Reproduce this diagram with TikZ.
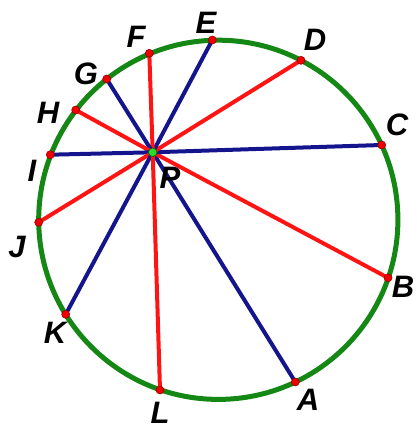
\documentclass[tikz,border=0pt]{standalone}
\usepackage{fontspec}
\setmainfont{Liberation Sans}
\definecolor{cgreen}{RGB}{20,135,20}
\definecolor{cblue}{RGB}{20,20,140}
\definecolor{cred}{RGB}{255,20,20}
\definecolor{cdot}{RGB}{240,0,0}
\definecolor{cpdot}{RGB}{40,220,40}
\tikzset{
  dotpt/.style={circle,fill=cdot,draw=red!60!black,line width=0.6pt,inner sep=0pt,minimum size=8pt},
  pdot/.style={circle,fill=cpdot,draw=green!40!black,line width=0.6pt,inner sep=0pt,minimum size=8.5pt},
  seg/.style={line width=4pt},
  bseg/.style={seg,draw=cblue},
  rseg/.style={seg,draw=cred},
  lab/.style={font=\fontsize{31}{31}\selectfont\bfseries\itshape,inner sep=0pt,text=black}
}
\begin{document}
\begin{tikzpicture}[x=1pt,y=-1pt]
\useasboundingbox (0,0) rectangle (416,430);
\coordinate (O) at (218.3,219.8);
\draw[cgreen,line width=5pt] (O) circle[radius=179.6];
\coordinate (Pc) at (152.7,152.3);
\coordinate (Ac) at (295.3,382);
\coordinate (Bc) at (388,277.8);
\coordinate (Cc) at (381.7,145);
\coordinate (Dc) at (301,60.3);
\coordinate (Ec) at (212.3,40);
\coordinate (Fc) at (149.3,53.3);
\coordinate (Gc) at (106.7,79);
\coordinate (Hc) at (75.7,110);
\coordinate (Ic) at (50.3,154.7);
\coordinate (Jc) at (38.7,222.3);
\coordinate (Kc) at (65.7,314.3);
\coordinate (Lc) at (160,390);
\draw[bseg] (Pc) -- (Ac);
\draw[rseg] (Pc) -- (Bc);
\draw[bseg] (Pc) -- (Cc);
\draw[rseg] (Pc) -- (Dc);
\draw[bseg] (Pc) -- (Ec);
\draw[rseg] (Pc) -- (Fc);
\draw[bseg] (Pc) -- (Gc);
\draw[rseg] (Pc) -- (Hc);
\draw[bseg] (Pc) -- (Ic);
\draw[rseg] (Pc) -- (Jc);
\draw[bseg] (Pc) -- (Kc);
\draw[rseg] (Pc) -- (Lc);
\foreach \n in {A,B,C,D,E,F,G,H,I,J,K,L}{
  \node[dotpt] (\n) at (\n c) {};
}
\node[pdot] (P) at (Pc) {};
\node[lab] (lA) at (308,400) {A};
\node[lab] (lB) at (403,287) {B};
\node[lab] (lC) at (397,125) {C};
\node[lab] (lD) at (315,40) {D};
\node[lab] (lE) at (206,23) {E};
\node[lab] (lF) at (136,37) {F};
\node[lab] (lG) at (86,74) {G};
\node[lab] (lH) at (48,113) {H};
\node[lab] (lI) at (32,171) {I};
\node[lab] (lJ) at (17,247) {J};
\node[lab] (lK) at (55,333) {K};
\node[lab] (lL) at (160,413) {L};
\node[lab] (lP) at (170,178) {P};
\end{tikzpicture}
\end{document}
